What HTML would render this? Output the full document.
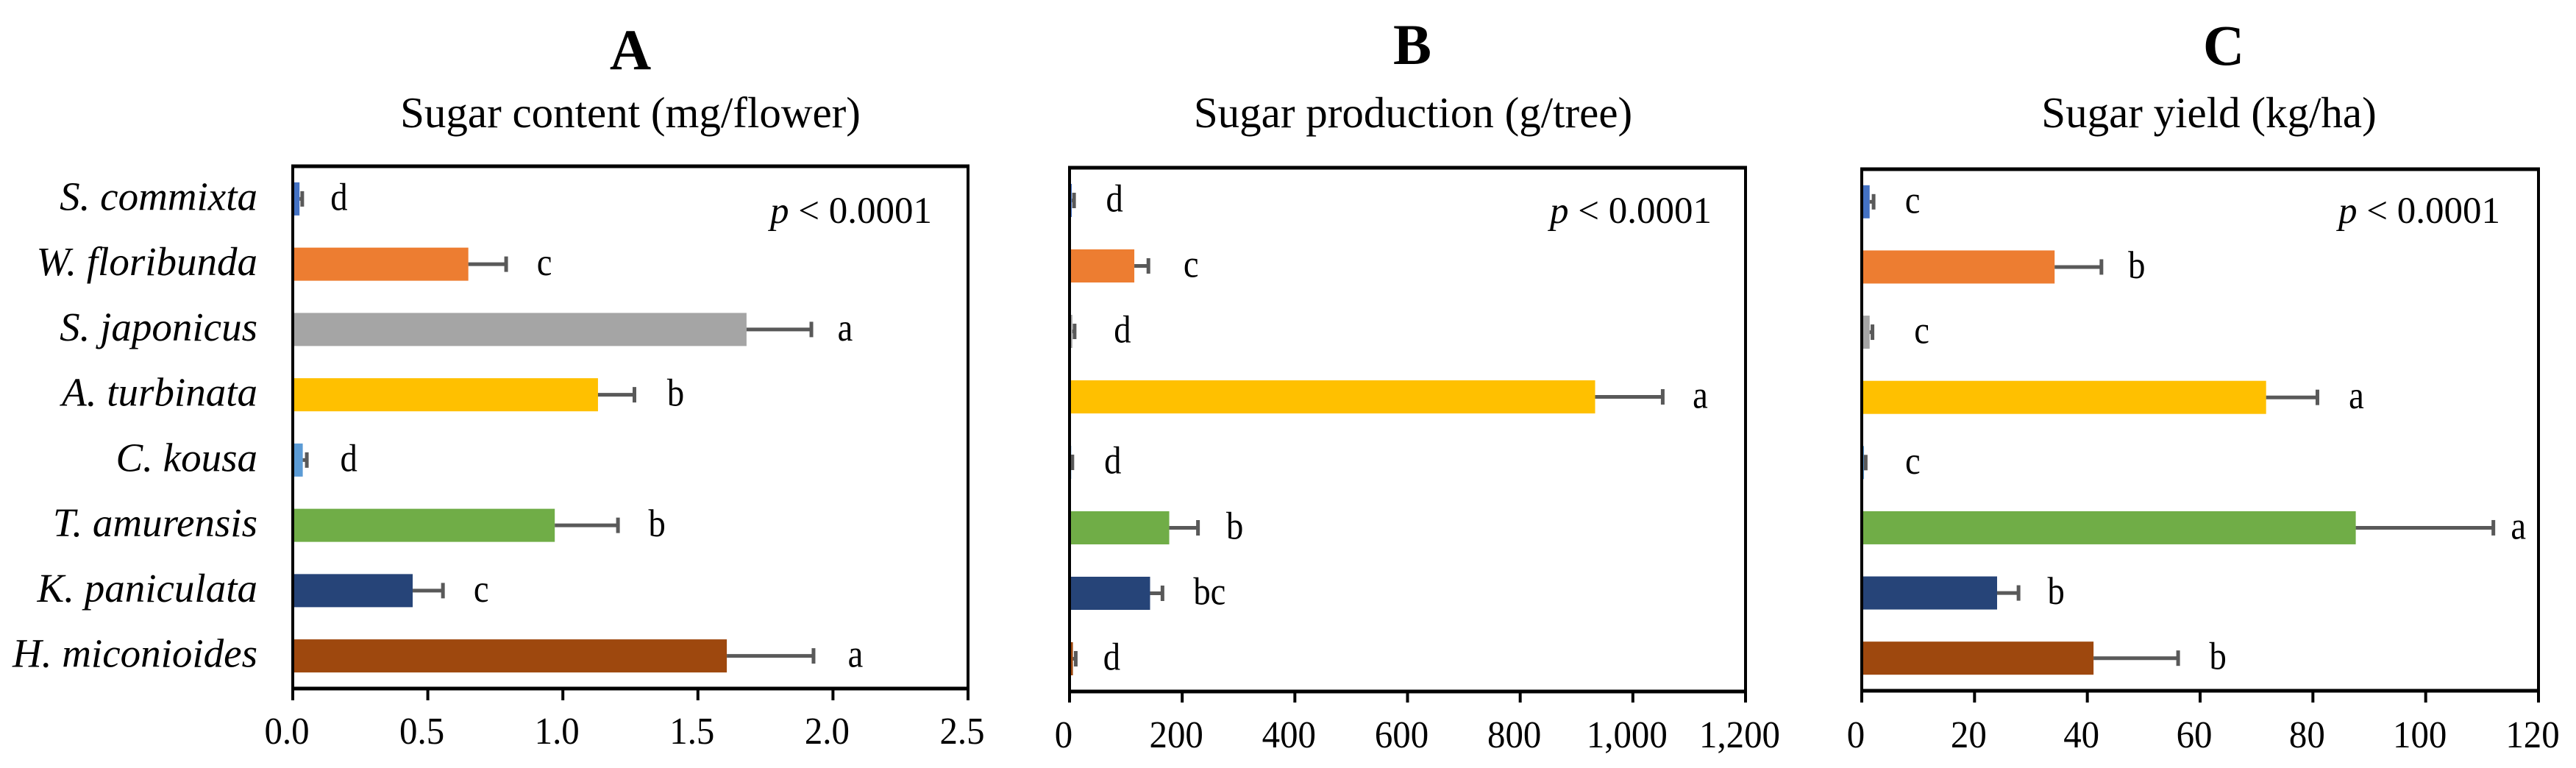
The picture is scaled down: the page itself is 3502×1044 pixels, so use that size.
<!DOCTYPE html>
<html lang="en">
<head>
<meta charset="utf-8">
<title>Sugar content, production and yield by species</title>
<style>
  html, body { margin: 0; padding: 0; background: #fff; }
  svg { display: block; font-family: "Liberation Serif", serif; fill: #000; }
</style>
</head>
<body>
<svg id="chart" xmlns="http://www.w3.org/2000/svg" width="3502" height="1044" viewBox="0 0 3502 1044"></svg>
<script>
// ---------- data ----------
const categories = ["S. commixta", "W. floribunda", "S. japonicus", "A. turbinata", "C. kousa", "T. amurensis", "K. paniculata", "H. miconioides"];

const contentValues = [0.025, 0.65, 1.68, 1.13, 0.037, 0.97, 0.444, 1.607];
const contentErrors = [0.010, 0.14, 0.24, 0.135, 0.015, 0.234, 0.112, 0.321];
const contentLetters = ["d", "c", "a", "b", "d", "b", "c", "a"];
const contentTicks = ["0.0", "0.5", "1.0", "1.5", "2.0", "2.5"];
const contentTickValues = [0, 0.5, 1, 1.5, 2, 2.5];

const productionValues = [4, 115, 5, 933, 3, 177, 143, 6];
const productionErrors = [4, 25, 4, 120, 2, 51, 22, 5];
const productionLetters = ["d", "c", "d", "a", "d", "b", "bc", "d"];
const productionTicks = ["0", "200", "400", "600", "800", "1,000", "1,200"];
const productionTickValues = [0, 200, 400, 600, 800, 1000, 1200];

const yieldValues = [1.4, 34.2, 1.4, 71.7, 0.4, 87.6, 24, 41.1];
const yieldErrors = [0.7, 8.3, 0.5, 9.1, 0.3, 24.4, 3.8, 15];
const yieldLetters = ["c", "b", "c", "a", "c", "a", "b", "b"];
const yieldTicks = ["0", "20", "40", "60", "80", "100", "120"];
const yieldTickValues = [0, 20, 40, 60, 80, 100, 120];

// ---------- layout and styling ----------
const barColors = ["#4472C4", "#ED7D31", "#A5A5A5", "#FFC000", "#5B9BD5", "#70AD47", "#264478", "#9E480E"];
const NS = "http://www.w3.org/2000/svg";
const svg = document.getElementById("chart");

const panels = [
  { id: "a", title: "A", subtitle: "Sugar content (mg/flower)", values: contentValues, errors: contentErrors,
    letters: contentLetters, ticks: contentTicks, tickValues: contentTickValues, max: 2.5,
    left: 398, right: 1316, top: 226, bottom: 936, tickEnd: 952, tickBase: 1011,
    titleX: 857, titleBase: 94, subX: 857, pX: 1157,
    gaps: [50, 52, 46, 56, 57, 53, 52, 57], showCategories: true },
  { id: "b", title: "B", subtitle: "Sugar production (g/tree)", values: productionValues, errors: productionErrors,
    letters: productionLetters, ticks: productionTicks, tickValues: productionTickValues, max: 1200,
    left: 1454, right: 2373, top: 228, bottom: 940, tickEnd: 955, tickBase: 1016,
    titleX: 1920, titleBase: 87, subX: 1921, pX: 2217,
    gaps: [55, 58, 65, 51, 55, 50, 64, 49], showCategories: false },
  { id: "c", title: "C", subtitle: "Sugar yield (kg/ha)", values: yieldValues, errors: yieldErrors,
    letters: yieldLetters, ticks: yieldTicks, tickValues: yieldTickValues, max: 120,
    left: 2531, right: 3451, top: 230, bottom: 939, tickEnd: 955, tickBase: 1016,
    titleX: 3023, titleBase: 88, subX: 3003, pX: 3289,
    gaps: [53, 48, 67, 53, 64, 34, 51, 54], showCategories: false }
];

function make(tag, attrs, parent, text) {
  const el = document.createElementNS(NS, tag);
  for (const k in attrs) el.setAttribute(k, attrs[k]);
  if (text !== undefined) el.textContent = text;
  parent.appendChild(el);
  return el;
}

// the source figure's lettering is slightly condensed horizontally
function condensed(x, y, sx) {
  return "translate(" + x + " " + y + ") scale(" + sx + " 1)";
}

function slug(s) {
  return s.toLowerCase().replace(/[^a-z0-9]+/g, "-").replace(/^-|-$/g, "");
}

panels.forEach(function (p) {
  const xScale = function (v) { return p.left + (v / p.max) * (p.right - p.left); };
  const band = (p.bottom - p.top) / categories.length;
  const yCenter = function (i) { return p.top + (i + 0.5) * band; };

  const g = make("g", {}, svg);
  
  

  const title = make("text", { x: p.titleX, y: p.titleBase, "text-anchor": "middle", "font-size": 78, "font-weight": "bold" }, g, p.title);
  
  

  const sub = make("text", { x: p.subX, y: 173, "text-anchor": "middle", "font-size": 59 }, g, p.subtitle);
  
  

  // bars, error bars, letters
  categories.forEach(function (cat, i) {
    const cy = yCenter(i);
    const name = slug(cat);
    const end = xScale(p.values[i]);
    const errEnd = xScale(p.values[i] + p.errors[i]);

    const bar = make("rect", { x: p.left, y: cy - 22.5, width: end - p.left, height: 45, fill: barColors[i] }, g);
    
    

    const err = make("line", { x1: end, x2: errEnd, y1: cy, y2: cy, stroke: "#595959", "stroke-width": 5 }, g);
    
    

    const cap = make("line", { x1: errEnd, x2: errEnd, y1: cy - 10.5, y2: cy + 10.5, stroke: "#595959", "stroke-width": 5 }, g);
    
    

    const letter = make("text", { transform: condensed(errEnd + p.gaps[i], cy + 15, 0.88), "text-anchor": "middle", "font-size": 53 }, g, p.letters[i]);
    
    

    if (p.showCategories) {
      const lab = make("text", { x: 350, y: cy + 15, "text-anchor": "end", "font-size": 55, "font-style": "italic" }, g, cat);
      
      
    }
  });

  // frame
  const frame = [
    ["top", p.left - 2, p.top, p.right + 2, p.top, 5],
    ["bottom", p.left - 2, p.bottom, p.right + 2, p.bottom, 5],
    ["left", p.left, p.top, p.left, p.tickEnd, 4],
    ["right", p.right, p.top, p.right, p.tickEnd, 4]
  ];
  frame.forEach(function (f) {
    const line = make("line", { x1: f[1], y1: f[2], x2: f[3], y2: f[4], stroke: "#000", "stroke-width": f[5] }, g);
    
    
  });

  // ticks
  p.tickValues.forEach(function (v, i) {
    const x = xScale(v);
    const tick = make("line", { x1: x, x2: x, y1: p.bottom, y2: p.tickEnd, stroke: "#000", "stroke-width": 4 }, g);
    
    

    const lab = make("text", { transform: condensed(x - 8, p.tickBase, 0.94), "text-anchor": "middle", "font-size": 52 }, g, p.ticks[i]);
    
    
  });

  // p-value note
  const note = make("text", { x: p.pX, y: 303, "text-anchor": "middle", "font-size": 51 }, g);
  
  
  make("tspan", { "font-style": "italic" }, note, "p");
  make("tspan", {}, note, " < 0.0001");
});
</script>
</body>
</html>
